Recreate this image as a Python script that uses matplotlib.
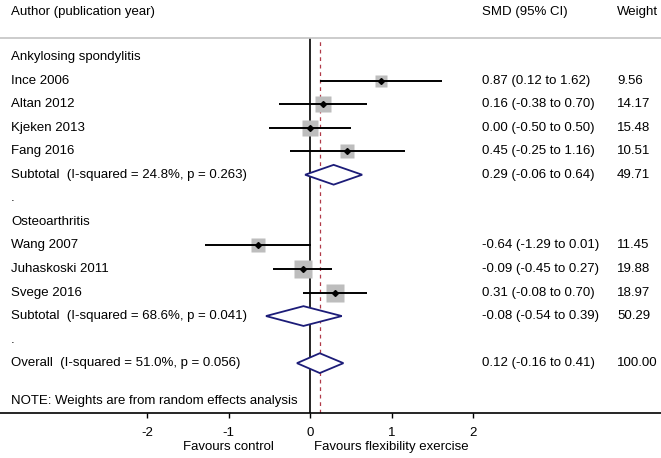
import matplotlib
matplotlib.use("Agg")
import matplotlib.pyplot as plt
from matplotlib.patches import Polygon
import numpy as np

plt.rcParams['font.family'] = ['Liberation Sans', 'DejaVu Sans']
plt.rcParams['font.size'] = 9.5

# study data
groups = ["Ankylosing spondylitis", "Osteoarthritis"]
studies = [["Ince 2006", "Altan 2012", "Kjeken 2013", "Fang 2016"],
           ["Wang 2007", "Juhaskoski 2011", "Svege 2016"]]
smd = [[0.87, 0.16, 0.00, 0.45], [-0.64, -0.09, 0.31]]
lo = [[0.12, -0.38, -0.50, -0.25], [-1.29, -0.45, -0.08]]
hi = [[1.62, 0.70, 0.50, 1.16], [0.01, 0.27, 0.70]]
weights = [[9.56, 14.17, 15.48, 10.51], [11.45, 19.88, 18.97]]

# subtotals
sub_i2 = [24.8, 68.6]
sub_p = [0.263, 0.041]
sub_smd = [0.29, -0.08]
sub_lo = [-0.06, -0.54]
sub_hi = [0.64, 0.39]
sub_w = [49.71, 50.29]

# overall
ov_i2, ov_p = 51.0, 0.056
ov_smd, ov_lo, ov_hi, ov_w = 0.12, -0.16, 0.41, 100.00

xticks = [-2, -1, 0, 1, 2]

fig = plt.figure(figsize=(6.61, 4.58), dpi=100)
H = 458.0
ax = fig.add_axes([0, 1 - 412.5 / H, 1, (412.5 - 37.5) / H])

px = 81.5  # pixels per SMD unit
x0 = 310.0
ax.set_xlim(-x0 / px, (661 - x0) / px)
row_h = 23.55
ax.set_ylim((412.5 - 57) / row_h, (37.5 - 57) / row_h)

x_lab = (11 - x0) / px
x_smd = (482 - x0) / px
x_w = (617 - x0) / px

navy = '#1c1c78'


def ci_text(m, l, h):
    return f"{m:.2f} ({l:.2f} to {h:.2f})"


def diamond(y, m, l, h):
    d = 0.42
    ax.add_patch(Polygon([[l, y], [m, y - d], [h, y], [m, y + d]], closed=True,
                         facecolor='white', edgecolor=navy, lw=1.3, zorder=3))


row = 0
for g in range(len(groups)):
    ax.text(x_lab, row, groups[g], va='center', ha='left')
    row += 1
    for name, m, l, h, w in zip(studies[g], smd[g], lo[g], hi[g], weights[g]):
        ax.plot([l, h], [row, row], color='black', lw=1.4, zorder=2,
                solid_capstyle='butt')
        ax.plot(m, row, marker='s', ms=4.1 * np.sqrt(w) * 0.72, color='#bdbdbd',
                mec='none', zorder=1)
        ax.plot(m, row, marker='D', ms=3, color='black', zorder=4)
        ax.text(x_lab, row, name, va='center', ha='left')
        ax.text(x_smd, row, ci_text(m, l, h), va='center', ha='left')
        ax.text(x_w, row, f"{w:.2f}", va='center', ha='left')
        row += 1
    ax.text(x_lab, row, f"Subtotal  (I-squared = {sub_i2[g]:.1f}%, p = {sub_p[g]:.3f})",
            va='center', ha='left')
    diamond(row, sub_smd[g], sub_lo[g], sub_hi[g])
    ax.text(x_smd, row, ci_text(sub_smd[g], sub_lo[g], sub_hi[g]), va='center', ha='left')
    ax.text(x_w, row, f"{sub_w[g]:.2f}", va='center', ha='left')
    row += 1
    ax.text(x_lab, row, ".", va='center', ha='left')
    row += 1

ax.text(x_lab, row, f"Overall  (I-squared = {ov_i2:.1f}%, p = {ov_p:.3f})",
        va='center', ha='left')
diamond(row, ov_smd, ov_lo, ov_hi)
ax.text(x_smd, row, ci_text(ov_smd, ov_lo, ov_hi), va='center', ha='left')
ax.text(x_w, row, f"{ov_w:.2f}", va='center', ha='left')

ax.text(x_lab, (401 - 57) / row_h, "NOTE: Weights are from random effects analysis",
        va='center', ha='left')

# header
y_head = (12 - 57) / row_h
ax.text(x_lab, y_head, "Author (publication year)", va='center', ha='left', clip_on=False)
ax.text(x_smd, y_head, "SMD (95% CI)", va='center', ha='left', clip_on=False)
ax.text(x_w, y_head, "Weight", va='center', ha='left', clip_on=False)

# reference lines
ax.axvline(0, color='black', lw=1.2, zorder=0)
ax.axvline(ov_smd, color='#b03a48', lw=0.9, ls=(0, (3, 3)), zorder=0)

# axis styling
for s in ['left', 'right']:
    ax.spines[s].set_visible(False)
ax.spines['top'].set_color('#c4c4c4')
ax.spines['top'].set_linewidth(1.2)
ax.spines['bottom'].set_linewidth(1.2)
ax.set_yticks([])
ax.set_xticks(xticks)
ax.set_xticklabels([str(t) for t in xticks])
ax.tick_params(axis='x', length=3.6, width=1, pad=6.5, labelsize=9.5)

y_fav = (447 - 57) / row_h
ax.text(-1, y_fav, "Favours control", ha='center', va='center', clip_on=False)
ax.text(1, y_fav, "Favours flexibility exercise", ha='center', va='center', clip_on=False)

fig.savefig("out.png", dpi=100)
